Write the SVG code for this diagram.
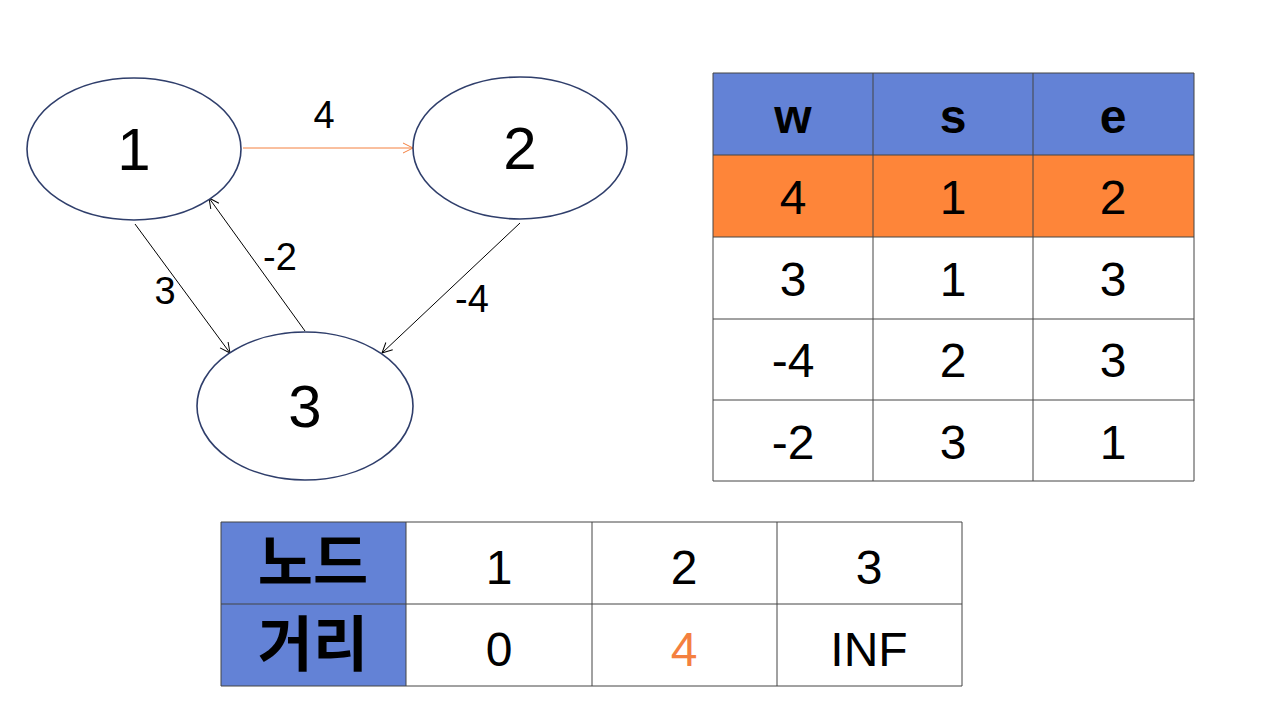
<svg xmlns="http://www.w3.org/2000/svg" width="1280" height="720" viewBox="0 0 1280 720">
<defs>
<style>
.node{fill:#fff;stroke:#2F3E6B;stroke-width:1.6}
.nt{font-family:"Liberation Sans",Arial,sans-serif;font-size:60px;text-anchor:middle;fill:#000}
.el{font-family:"Liberation Sans",Arial,sans-serif;font-size:38px;text-anchor:middle;fill:#000}
.edge{stroke:#000;stroke-width:1;fill:none}
.tb{font-family:"Liberation Sans",Arial,sans-serif;font-size:48px;text-anchor:middle;fill:#000}
.th{font-family:"Liberation Sans",Arial,sans-serif;font-size:48px;font-weight:bold;text-anchor:middle;fill:#000}
.kr{font-family:"Noto Sans CJK KR","Noto Sans",sans-serif;font-size:60px;font-weight:bold;text-anchor:middle;fill:#000}
.grid{stroke:#444;stroke-width:1;fill:none}
</style>
<marker id="ab" viewBox="0 0 12 12" refX="11" refY="6" markerWidth="12" markerHeight="12" markerUnits="userSpaceOnUse" orient="auto"><path d="M1,1 L11,6 L1,11" fill="none" stroke="#000" stroke-width="1"/></marker>
<marker id="ao" viewBox="0 0 12 12" refX="11" refY="6" markerWidth="12" markerHeight="12" markerUnits="userSpaceOnUse" orient="auto"><path d="M1,1 L11,6 L1,11" fill="none" stroke="#F4803F" stroke-width="1"/></marker>
</defs>
<rect width="1280" height="720" fill="#fff"/>
<g id="connectors">
<line x1="243" y1="148" x2="413" y2="148" stroke="#F4803F" stroke-width="1" marker-end="url(#ao)"/>
<line class="edge" x1="135" y1="224" x2="230" y2="353" marker-end="url(#ab)"/>
<line class="edge" x1="305" y1="331" x2="209" y2="198" marker-end="url(#ab)"/>
<line class="edge" x1="520" y1="223" x2="382" y2="353" marker-end="url(#ab)"/>
<text class="el" x="324" y="128">4</text>
<text class="el" x="165" y="304">3</text>
<text class="el" x="280" y="270">-2</text>
<text class="el" x="472" y="312">-4</text>
</g>
<g id="node1"><ellipse class="node" cx="134" cy="149" rx="107" ry="71"/><text class="nt" x="134" y="170">1</text></g>
<g id="node2"><ellipse class="node" cx="520" cy="148" rx="107" ry="71"/><text class="nt" x="520" y="169">2</text></g>
<g id="node3"><ellipse class="node" cx="305" cy="406" rx="108" ry="74"/><text class="nt" x="305" y="427">3</text></g>
<g id="edge-table">
<rect x="713" y="73" width="481" height="82" fill="#6382D6"/>
<rect x="713" y="155" width="481" height="82" fill="#FE8539"/>
<path class="grid" d="M713,73H1194V481H713Z M713,155H1194 M713,237H1194 M713,319H1194 M713,400H1194 M873,73V481 M1033,73V481"/>
<text class="th" x="793" y="133">w</text><text class="th" x="953" y="133">s</text><text class="th" x="1113" y="133">e</text>
<text class="tb" x="793" y="214">4</text><text class="tb" x="953" y="214">1</text><text class="tb" x="1113" y="214">2</text>
<text class="tb" x="793" y="296">3</text><text class="tb" x="953" y="296">1</text><text class="tb" x="1113" y="296">3</text>
<text class="tb" x="793" y="377">-4</text><text class="tb" x="953" y="377">2</text><text class="tb" x="1113" y="377">3</text>
<text class="tb" x="793" y="459">-2</text><text class="tb" x="953" y="459">3</text><text class="tb" x="1113" y="459">1</text>
</g>
<g id="dist-table">
<rect x="221" y="522" width="185" height="164" fill="#6382D6"/>
<path class="grid" d="M221,522H962V686H221Z M221,604H962 M406,522V686 M592,522V686 M777,522V686"/>
<text class="kr" x="313" y="584">노드</text>
<text class="kr" x="313" y="666">거리</text>
<text class="tb" x="499" y="584">1</text><text class="tb" x="684" y="584">2</text><text class="tb" x="869" y="584">3</text>
<text class="tb" x="499" y="666">0</text><text class="tb" x="684" y="666" style="fill:#F4803F">4</text><text class="tb" x="869" y="666">INF</text>
</g>
</svg>
